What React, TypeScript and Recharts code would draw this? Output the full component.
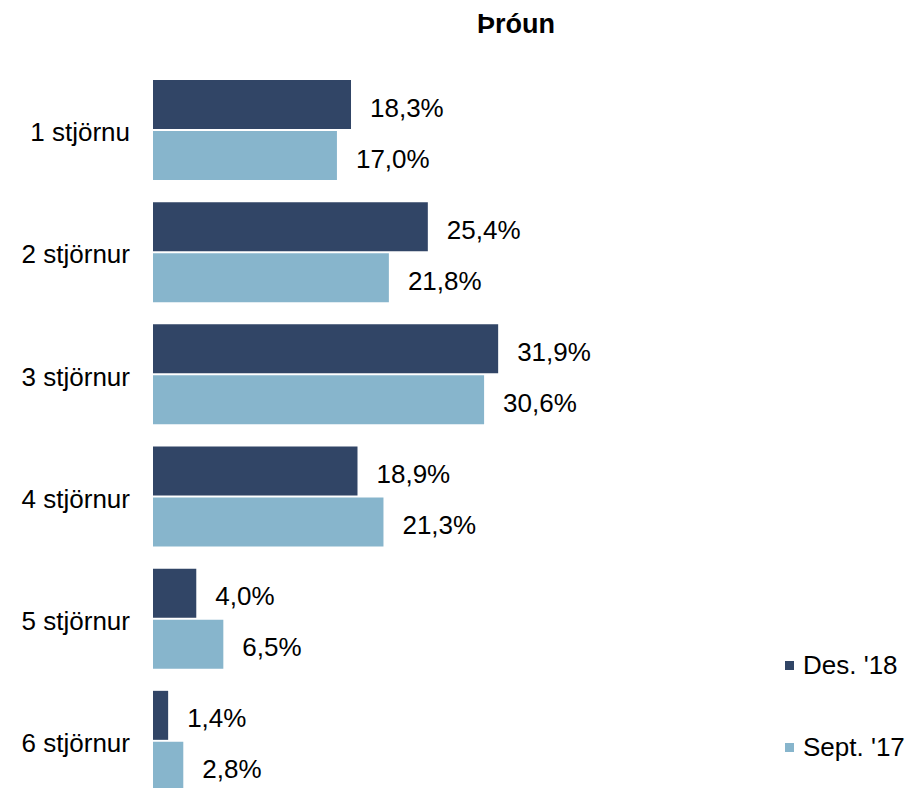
import React from 'react';
import { BarChart, Bar, XAxis, YAxis, LabelList } from 'recharts';

const categories = ['1 stjörnu', '2 stjörnur', '3 stjörnur', '4 stjörnur', '5 stjörnur', '6 stjörnur'];
const des18 = [18.3, 25.4, 31.9, 18.9, 4.0, 1.4];
const sept17 = [17.0, 21.8, 30.6, 21.3, 6.5, 2.8];
const seriesNames = ["Des. '18", "Sept. '17"];
const title = 'Þróun';

const DARK = '#314566';
const LIGHT = '#87B5CC';
const FONT = '"Liberation Sans", Arial, sans-serif';

const data = categories.map((c, i) => ({ cat: c, a: des18[i], b: sept17[i] }));

const fmt = (v: number) => v.toFixed(1).replace('.', ',') + '%';

const ValueLabel = (props: any) => {
  const { x, y, width, height, value } = props;
  return (
    <text
      x={x + width + 19}
      y={y + height / 2 + 3}
      dy="0.35em"
      fontSize={26}
      fontFamily={FONT}
      fill="#000"
      textAnchor="start"
    >
      {fmt(Number(value))}
    </text>
  );
};

const CatTick = (props: any) => {
  const { x, y, payload } = props;
  return (
    <text
      x={x}
      y={y + 2}
      dy="0.35em"
      fontSize={26}
      fontFamily={FONT}
      fill="#000"
      textAnchor="end"
    >
      {payload.value}
    </text>
  );
};

const LegendBox = () => {
  const colors = [DARK, LIGHT];
  const tops = [665, 747];
  return (
    <>
      {seriesNames.map((n, i) => (
        <div
          key={n}
          style={{
            position: 'absolute',
            left: 785,
            top: tops[i] - 15,
            height: 30,
            display: 'flex',
            alignItems: 'center',
            fontFamily: FONT,
            whiteSpace: 'nowrap',
          }}
        >
          <div style={{ width: 9, height: 9, background: colors[i], marginRight: 9 }} />
          <span style={{ fontSize: 26, color: '#000', lineHeight: '30px' }}>{n}</span>
        </div>
      ))}
    </>
  );
};

export default function App() {
  return (
    <div
      style={{
        position: 'absolute',
        left: 0,
        top: 0,
        width: 912,
        height: 788,
        overflow: 'hidden',
        background: '#fff',
      }}
    >
      <BarChart
        width={912}
        height={810}
        data={data}
        layout="vertical"
        margin={{ top: 69, right: 218, bottom: 8, left: 0 }}
        barSize={49}
        barGap={2}
      >
        <text
          x={516}
          y={33}
          textAnchor="middle"
          fontSize={27}
          fontWeight="bold"
          fontFamily={FONT}
          fill="#000"
        >
          {title}
        </text>
        <XAxis type="number" domain={[0, 50]} hide />
        <YAxis
          type="category"
          dataKey="cat"
          width={153}
          axisLine={false}
          tickLine={false}
          tickSize={0}
          tickMargin={23}
          tick={<CatTick />}
          interval={0}
        />
        <Bar dataKey="a" name={seriesNames[0]} fill={DARK} isAnimationActive={false}>
          <LabelList dataKey="a" content={<ValueLabel />} />
        </Bar>
        <Bar dataKey="b" name={seriesNames[1]} fill={LIGHT} isAnimationActive={false}>
          <LabelList dataKey="b" content={<ValueLabel />} />
        </Bar>
      </BarChart>
      <LegendBox />
    </div>
  );
}
